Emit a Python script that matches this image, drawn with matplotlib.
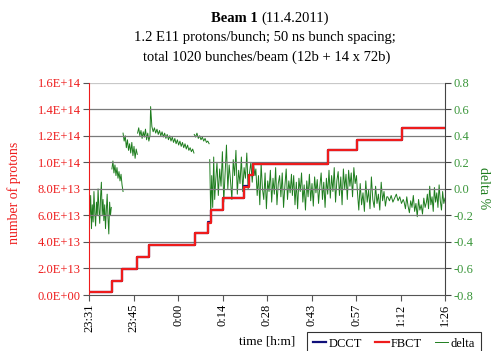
import numpy as np
import matplotlib.pyplot as plt

plt.rcParams['font.family'] = ['Liberation Serif', 'DejaVu Serif']

# time axis: minutes after 23:31
tick_labels = ['23:31', '23:45', '0:00', '0:14', '0:28', '0:43', '0:57', '1:12', '1:26']
t_end = 115

# beam intensity steps (start minute, protons)
step_t = [0, 7.4, 10.8, 15.6, 19.4, 34.1, 38.5, 39.3, 43.3, 50.1, 51.7, 53.0, 77.3, 86.6, 101.2, 114.8]
fbct = [0.2e13, 1.06e13, 1.95e13, 2.84e13, 3.77e13, 4.65e13, 5.46e13, 6.4e13, 7.3e13,
        8.17e13, 9.05e13, 9.9e13, 10.9e13, 11.7e13, 12.58e13, 12.58e13]
dcct = [0.21e13, 1.07e13, 1.96e13, 2.85e13, 3.78e13, 4.66e13, 5.47e13, 6.41e13, 7.31e13,
        8.18e13, 9.06e13, 9.91e13, 10.91e13, 11.71e13, 12.59e13, 12.59e13]

# delta % pieces: (start minute, end minute, values); None = gap
d1 = [-0.08, -0.22, -0.05, -0.30, -0.12, -0.25, -0.02, -0.18, -0.28, -0.10, -0.20, 0.00, -0.15, -0.26,
      -0.06, 0.05, -0.20, -0.08, -0.24, -0.12, -0.30, -0.16, -0.04, -0.22, -0.34, -0.10, -0.20, -0.14]
d2 = [0.15, 0.21, 0.12, 0.18, 0.10, 0.16, 0.08, 0.13, 0.06, 0.11, 0.03, -0.02]
d3 = [0.42, 0.36, 0.40, 0.31, 0.37, 0.29, 0.34, 0.27, 0.35, 0.25, 0.32, 0.23, 0.30, 0.26]
d4 = [0.42, 0.46, 0.40, 0.44, 0.38, 0.43, 0.39, 0.45, 0.37, 0.42, 0.36, 0.40]
d5 = [0.62, 0.47, 0.43, 0.46, 0.42, 0.45, 0.41, 0.44, 0.40, 0.43, 0.39, 0.42, 0.38, 0.41, 0.37, 0.40,
      0.36, 0.39, 0.35, 0.38, 0.34, 0.37, 0.33, 0.36, 0.32, 0.35, 0.31, 0.34, 0.30, 0.33, 0.29, 0.31,
      0.28, 0.30, 0.27]
d6 = [0.41, 0.39, 0.42, 0.38, 0.40, 0.37, 0.39, 0.36, 0.38, 0.35, 0.36, 0.34]
d7a = [0.22, -0.20, 0.10, -0.14, 0.24, -0.08]
d7b = [0.05, 0.20, -0.05, 0.15, 0.02, 0.28, -0.10, 0.12, 0.33, 0.00, 0.18, 0.06, -0.08, 0.22, 0.10,
       0.29, -0.04, 0.14, 0.04, 0.24, -0.02, 0.16, 0.08, 0.27, 0.00, 0.12, 0.20, 0.05, 0.18, 0.10]
d7c = [0.15, -0.05, 0.10, -0.12, 0.19, 0.00, -0.08, 0.12, -0.15, 0.06, -0.02, 0.14, -0.10, 0.08,
       -0.04, 0.16, -0.12, 0.04, 0.10, -0.06, 0.12, -0.14, 0.02, 0.15, -0.08, 0.06, -0.03, 0.11]
d7d = [-0.05, 0.10, -0.12, 0.05, -0.15, 0.08, -0.02, 0.12, -0.10, 0.03, -0.16, 0.06, -0.06, 0.11,
       -0.09, 0.04, -0.13, 0.09, -0.03, 0.07, -0.11, 0.02, 0.12, -0.08, 0.05, -0.14, 0.08, -0.04,
       0.14, -0.07, 0.10, -0.02, 0.16, -0.10, 0.06, 0.13, -0.05, 0.09, -0.12, 0.15, 0.00, 0.11,
       -0.08, 0.14, 0.02, 0.12, -0.06, 0.16, 0.04, 0.10]
d7e = [-0.02, -0.16, 0.04, -0.12, -0.03, -0.17, 0.06, -0.10, -0.01, -0.15, 0.09, -0.08, -0.14, 0.02,
       -0.11, -0.04, -0.16, 0.05, -0.09, -0.02, -0.13, -0.06]
d7f = [-0.06, -0.09, -0.05, -0.10, -0.07, -0.04, -0.09, -0.06, -0.11, -0.08]
d7g = [-0.10, -0.15, -0.06, -0.13, -0.18, -0.09, -0.14, -0.05, -0.17, -0.11, -0.21, -0.08, -0.16,
       -0.12, -0.19, -0.07, -0.14, -0.10]
d7h = [-0.04, -0.15, 0.02, -0.12, -0.06, -0.17, 0.01, -0.10, -0.03, -0.14, 0.03, -0.09, -0.16,
       -0.02, -0.11, -0.07]

pieces = [(0.0, 7.2, d1), None, (7.4, 11.0, d2), None, (11.0, 15.6, d3), None,
          (15.7, 19.7, d4), (19.9, 33.9, d5), None, (34.0, 38.8, d6), None,
          (39.0, 40.6, d7a), (40.9, 53.6, d7b), (53.9, 65.4, d7c), (65.7, 86.4, d7d),
          (86.7, 96.2, d7e), (96.5, 101.5, d7f), (101.8, 109.0, d7g), (109.3, 115.0, d7h)]

dt, dv = [], []
for p in pieces:
    if p is None:
        dt.append(np.nan)
        dv.append(np.nan)
    else:
        dt.extend(np.linspace(p[0], p[1], len(p[2])))
        dv.extend(p[2])

W, H = 491, 351
fig = plt.figure(figsize=(W / 100, H / 100), dpi=100)
ax = fig.add_axes([89 / W, 1 - 295 / H, (445 - 89) / W, (295 - 82.7) / H])
ax2 = ax.twinx()

red = '#ee1c1c'
green = '#1e7d1e'

ax.set_zorder(2)
ax.patch.set_visible(False)
l1, = ax.step(step_t, dcct, where='post', color='#10107a', lw=1.6, zorder=3)
l2, = ax.step(step_t, fbct, where='post', color=red, lw=1.6, zorder=4)
l3, = ax2.plot(dt, dv, color=green, lw=0.7)

ax.set_xlim(0, t_end)
ax.set_ylim(0, 1.6e14)
ax2.set_ylim(-0.8, 0.8)
ax.set_xticks(np.linspace(0, t_end, 9))
ax.set_xticklabels(tick_labels, rotation=90, fontsize=9)
ax.set_yticks(np.arange(0, 1.61e14, 2e13))
ax.set_yticklabels([f'{v / 10**int(np.log10(v)):.1f}E+{int(np.log10(v))}' if v > 0 else '0.0E+00'
                    for v in np.arange(0, 1.61e14, 2e13)], fontsize=9, color=red)
ax2.set_yticks(np.arange(-0.8, 0.81, 0.2))
ax2.set_yticklabels([f'{v:.1f}' if abs(v) > 1e-9 else '0.0' for v in np.arange(-0.8, 0.81, 0.2)],
                    fontsize=9, color='#3a963a')

for v in np.arange(2e13, 1.41e14, 2e13):
    ax.axhline(v, color='#7a7a7a', lw=0.9, zorder=1)
ax.axhline(1.6e14, color='#c8c8c8', lw=0.9, zorder=1)

for s in ['top']:
    ax.spines[s].set_visible(False)
    ax2.spines[s].set_visible(False)
ax.spines['left'].set_color(red)
ax2.spines['left'].set_visible(False)
ax.spines['right'].set_visible(False)
ax2.spines['right'].set_color('#444444')
ax.spines['bottom'].set_color('#555555')
ax2.spines['bottom'].set_visible(False)
ax.tick_params(axis='both', direction='out', length=4, color='#555555', pad=2)
ax2.tick_params(axis='y', direction='out', length=4, color='#444444', pad=2)

fig.text(14 / W, 1 - 193 / H, 'number of protons', rotation=90, color=red,
         fontsize=10, ha='center', va='center')
fig.text(484 / W, 1 - 188 / H, 'delta %', rotation=270, color=green,
         fontsize=10, ha='center', va='center')
fig.text(267 / W, 1 - 342 / H, 'time [h:m]', fontsize=9.5, ha='center', va='center')

fig.text(258 / W, 1 - 18 / H, 'Beam 1', fontsize=10.5, weight='bold', ha='right', va='center')
fig.text(261 / W, 1 - 18 / H, '(11.4.2011)', fontsize=10.5, ha='left', va='center')
fig.text(265 / W, 1 - 37 / H, '1.2 E11 protons/bunch; 50 ns bunch spacing;', fontsize=10.5,
         ha='center', va='center')
fig.text(267 / W, 1 - 57 / H, 'total 1020 bunches/beam (12b + 14 x 72b)', fontsize=10.5,
         ha='center', va='center')

leg = fig.legend([l1, l2, l3], ['DCCT', 'FBCT', 'delta'], ncol=3, loc='upper left',
                 bbox_to_anchor=(307 / W, 1 - 332 / H), fontsize=9, frameon=True,
                 fancybox=False, edgecolor='black', handlelength=1.1, handletextpad=0.2,
                 columnspacing=1.0, borderpad=0.45, borderaxespad=0)
leg.get_frame().set_linewidth(0.8)

fig.savefig('out.png', dpi=100)
